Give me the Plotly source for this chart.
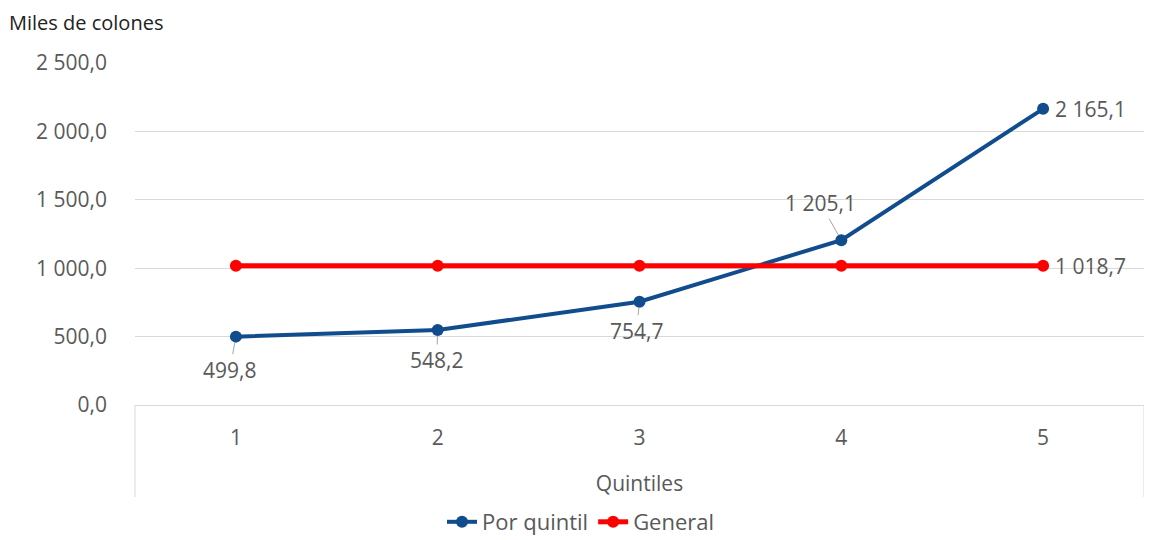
import plotly.graph_objects as go

quintiles = [1, 2, 3, 4, 5]
tick_labels = ["1", "2", "3", "4", "5"]
por_quintil = [499.8, 548.2, 754.7, 1205.1, 2165.1]
general = [1018.7, 1018.7, 1018.7, 1018.7, 1018.7]
y_ticks = [0, 500, 1000, 1500, 2000, 2500]


def fmt(v):
    s = f"{v:,.1f}"
    return s.replace(",", " ").replace(".", ",")


BLUE = "#114C8D"
RED = "#FF0000"
GRAY = "#595959"
FONT = "Open Sans"
FS = 21

W, H = 1144, 532
ML, MR, MT, MB = 127, 8, 55, 135
PW = W - ML - MR
PH = H - MT - MB

fig = go.Figure()
fig.add_trace(go.Scatter(
    x=quintiles, y=por_quintil, name="Por quintil", mode="lines+markers",
    line=dict(color=BLUE, width=4), marker=dict(color=BLUE, size=12),
))
fig.add_trace(go.Scatter(
    x=quintiles, y=general, name="General", mode="lines+markers",
    line=dict(color=RED, width=5), marker=dict(color=RED, size=12),
))

# data labels for Por quintil
offsets = [(-6, 33), (-1, 30), (-3, 29), (-21, -37)]
for xv, yv, (ax, ay) in zip(quintiles[:4], por_quintil[:4], offsets):
    fig.add_annotation(
        x=xv, y=yv, text=fmt(yv), showarrow=True, arrowhead=0, arrowwidth=1,
        arrowcolor="#A6A6A6", ax=ax, ay=ay, standoff=6,
        font=dict(family=FONT, size=FS, color=GRAY),
    )
fig.add_annotation(
    x=quintiles[4], y=por_quintil[4], text=fmt(por_quintil[4]), showarrow=False,
    xanchor="left", xshift=10, font=dict(family=FONT, size=FS, color=GRAY),
)
fig.add_annotation(
    x=quintiles[4], y=general[4], text=fmt(general[4]), showarrow=False,
    xanchor="left", xshift=10, font=dict(family=FONT, size=FS, color=GRAY),
)

# title at top-left
fig.add_annotation(
    xref="paper", yref="paper", x=-ML / PW, y=1 + MT / PH,
    xanchor="left", yanchor="top", text="Miles de colones", showarrow=False,
    borderpad=0, font=dict(family=FONT, size=20, color="#222222"),
)

# vertical boundary lines below the plot area
for xp in [0, 1]:
    fig.add_shape(type="line", xref="paper", yref="paper", x0=xp, x1=xp,
                  y0=0, y1=-92 / PH, line=dict(color="#D9D9D9", width=1))

fig.update_xaxes(
    range=[0.5, 5.5], tickvals=quintiles, ticktext=tick_labels,
    showgrid=False, zeroline=False, showline=True, linecolor="#D9D9D9",
    ticks="", ticklabelstandoff=14, automargin=False,
    tickfont=dict(family=FONT, size=FS, color=GRAY),
    title=dict(text="Quintiles", font=dict(family=FONT, size=FS, color=GRAY), standoff=26),
)
fig.update_yaxes(
    range=[0, 2500], tickvals=y_ticks, ticktext=[fmt(v) for v in y_ticks],
    showgrid=True, gridcolor="#D9D9D9", gridwidth=1, zeroline=False,
    ticks="", ticklabelstandoff=27, automargin=False,
    tickfont=dict(family=FONT, size=FS, color=GRAY),
)
fig.update_layout(
    width=W, height=H, plot_bgcolor="white", paper_bgcolor="white",
    margin=dict(l=ML, r=MR, t=MT, b=MB),
    showlegend=True,
    legend=dict(orientation="h", x=573 / W, xref="container", xanchor="center",
                y=18 / H, yref="container", yanchor="middle",
                font=dict(family=FONT, size=22, color=GRAY), itemwidth=30,
                tracegroupgap=0),
)

fig.write_html("out.html")
